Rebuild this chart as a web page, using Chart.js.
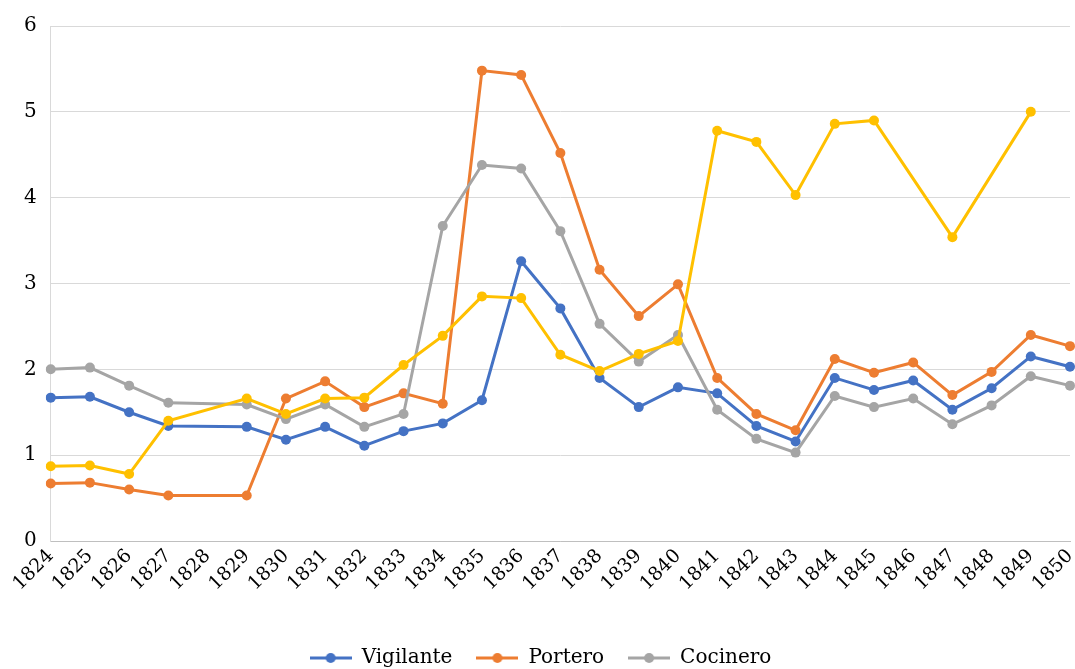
<!DOCTYPE html>
<html>
<head>
<meta charset="utf-8">
<script src="https://cdn.jsdelivr.net/npm/chart.js@4.4.1/dist/chart.umd.min.js"></script>
<style>
  html, body { margin: 0; padding: 0; background: #fff; }
  #wrap { width: 1075px; height: 669px; }
</style>
</head>
<body>
<div id="wrap"><canvas id="salarios"></canvas></div>
<script>
const years = ['1824', '1825', '1826', '1827', '1828', '1829', '1830', '1831', '1832', '1833',
  '1834', '1835', '1836', '1837', '1838', '1839', '1840', '1841', '1842', '1843',
  '1844', '1845', '1846', '1847', '1848', '1849', '1850'];

// null = no data that year (the line just jumps over it)
const vigilante = [1.67, 1.68, 1.50, 1.34, null, 1.33, 1.18, 1.33, 1.11, 1.28,
  1.37, 1.64, 3.26, 2.71, 1.90, 1.56, 1.79, 1.72, 1.34, 1.16,
  1.90, 1.76, 1.87, 1.53, 1.78, 2.15, 2.03];
const portero = [0.67, 0.68, 0.60, 0.53, null, 0.53, 1.66, 1.86, 1.56, 1.72,
  1.60, 5.48, 5.43, 4.52, 3.16, 2.62, 2.99, 1.90, 1.48, 1.29,
  2.12, 1.96, 2.08, 1.70, 1.97, 2.40, 2.27];
const cocinero = [2.00, 2.02, 1.81, 1.61, null, 1.59, 1.42, 1.59, 1.33, 1.48,
  3.67, 4.38, 4.34, 3.61, 2.53, 2.09, 2.40, 1.53, 1.19, 1.03,
  1.69, 1.56, 1.66, 1.36, 1.58, 1.92, 1.81];
// fourth series, not listed in the legend of the original
const otro = [0.87, 0.88, 0.78, 1.40, null, 1.66, 1.48, 1.66, 1.67, 2.05,
  2.39, 2.85, 2.83, 2.17, 1.98, 2.18, 2.33, 4.78, 4.65, 4.03,
  4.86, 4.90, null, 3.54, null, 5.00, null];

const yTicks = [0, 1, 2, 3, 4, 5, 6];

const serif = '"DejaVu Serif", "Liberation Serif", serif';

// little "line with dot" marker for the legend, like the spreadsheet one
function legendMarker(color) {
  const c = document.createElement('canvas');
  c.width = 42; c.height = 12;
  const g = c.getContext('2d');
  g.strokeStyle = color;
  g.lineWidth = 3;
  g.beginPath(); g.moveTo(0, 6); g.lineTo(42, 6); g.stroke();
  g.fillStyle = color;
  g.beginPath(); g.arc(21, 6, 5, 0, Math.PI * 2); g.fill();
  return c;
}

function serie(label, data, color, order, inLegend) {
  return {
    label: label,
    data: data,
    borderColor: color,
    backgroundColor: color,
    borderWidth: 3,
    pointRadius: 5,
    pointHoverRadius: 5,
    pointBorderWidth: 0,
    tension: 0,
    spanGaps: true,
    order: order,
    inLegend: inLegend,
    marker: legendMarker(color)
  };
}

// push the legend a bit lower, closer to the bottom edge
const legendDown = {
  id: 'legendDown',
  afterLayout(chart) {
    const lg = chart.legend;
    if (!lg) return;
    lg.top += 9;
    lg.bottom += 9;
  }
};

new Chart(document.getElementById('salarios').getContext('2d'), {
  type: 'line',
  data: {
    labels: years,
    datasets: [
      serie('Vigilante', vigilante, '#4472C4', 4, true),
      serie('Portero', portero, '#ED7D31', 3, true),
      serie('Cocinero', cocinero, '#A5A5A5', 2, true),
      serie('Otro', otro, '#FFC000', 1, false)
    ]
  },
  plugins: [legendDown],
  options: {
    responsive: true,
    maintainAspectRatio: false,
    animation: false,
    layout: { padding: { top: 10, right: 4, left: 10, bottom: 0 } },
    scales: {
      x: {
        grid: { display: false },
        border: { display: true, color: '#bfbfbf', width: 1 },
        afterFit: axis => {
          axis.height = 74;
          axis.paddingRight = 0;
        },
        ticks: {
          autoSkip: false,
          minRotation: 45,
          maxRotation: 45,
          padding: -4,
          color: '#000',
          font: { family: serif, size: 19 }
        }
      },
      y: {
        min: 0,
        max: 6,
        afterBuildTicks: axis => { axis.ticks = yTicks.map(v => ({ value: v })); },
        grid: { color: '#d9d9d9', lineWidth: 1, drawTicks: false },
        border: { display: true, color: '#d9d9d9' },
        ticks: {
          padding: 14,
          color: '#000',
          font: { family: serif, size: 20 }
        }
      }
    },
    plugins: {
      tooltip: { enabled: false },
      legend: {
        position: 'bottom',
        labels: {
          usePointStyle: true,
          pointStyleWidth: 42,
          padding: 24,
          color: '#000',
          font: { family: serif, size: 20 },
          generateLabels: chart => {
            return chart.data.datasets
              .map((ds, i) => ({
                text: ds.label,
                pointStyle: ds.marker,
                fillStyle: ds.borderColor,
                strokeStyle: ds.borderColor,
                lineWidth: 0,
                hidden: false,
                datasetIndex: i,
                keep: ds.inLegend
              }))
              .filter(item => item.keep);
          }
        }
      }
    }
  }
});
</script>
</body>
</html>
